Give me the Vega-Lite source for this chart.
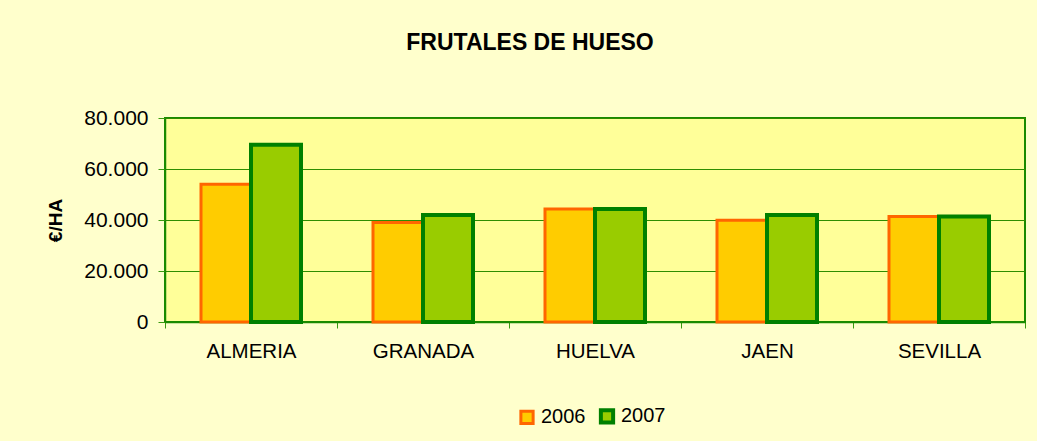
{
  "$schema": "https://vega.github.io/schema/vega-lite/v6.json",
  "width": 860,
  "height": 204,
  "autosize": "none",
  "padding": {"left": 165, "top": 118, "right": 12, "bottom": 119},
  "background": "#FFFFCC",
  "title": {
    "text": "FRUTALES DE HUESO",
    "font": "Liberation Sans",
    "fontSize": 23,
    "fontWeight": "bold",
    "color": "#000000",
    "anchor": "middle",
    "dx": -65,
    "offset": 52
  },
  "data": {
    "values": [
      {"provincia": "ALMERIA", "year": "2006", "valor": 54000},
      {"provincia": "ALMERIA", "year": "2007", "valor": 69500},
      {"provincia": "GRANADA", "year": "2006", "valor": 39000},
      {"provincia": "GRANADA", "year": "2007", "valor": 42000},
      {"provincia": "HUELVA", "year": "2006", "valor": 44300},
      {"provincia": "HUELVA", "year": "2007", "valor": 44300},
      {"provincia": "JAEN", "year": "2006", "valor": 39900},
      {"provincia": "JAEN", "year": "2007", "valor": 42000},
      {"provincia": "SEVILLA", "year": "2006", "valor": 41400},
      {"provincia": "SEVILLA", "year": "2007", "valor": 41400}
    ]
  },
  "mark": {"type": "bar", "strokeJoin": "miter"},
  "encoding": {
    "x": {
      "field": "provincia",
      "type": "nominal",
      "sort": null,
      "scale": {"paddingInner": 0, "paddingOuter": 0},
      "axis": {
        "title": null,
        "labelAngle": 0,
        "tickBand": "extent",
        "labelFont": "Liberation Sans",
        "labelFontSize": 20.5,
        "labelColor": "#000000",
        "labelPadding": 13,
        "tickSize": 6,
        "tickColor": "#3A9A10",
        "domainColor": "#1A8A00",
        "domainWidth": 1.5,
        "grid": false
      }
    },
    "xOffset": {
      "field": "year",
      "type": "nominal",
      "scale": {"paddingInner": 0, "paddingOuter": 0.72}
    },
    "y": {
      "field": "valor",
      "type": "quantitative",
      "scale": {"domain": [0, 80000]},
      "axis": {
        "values": [0, 20000, 40000, 60000, 80000],
        "labelExpr": "replace(format(datum.value, ','), ',', '.')",
        "title": "€/HA",
        "titleFont": "Liberation Sans",
        "titleFontSize": 19,
        "titleFontWeight": "bold",
        "titleColor": "#000000",
        "titlePadding": 18,
        "labelFont": "Liberation Sans",
        "labelFontSize": 21,
        "labelColor": "#000000",
        "labelPadding": 10,
        "tickSize": 7,
        "tickColor": "#3A9A10",
        "domainColor": "#1A8A00",
        "domainWidth": 1.5,
        "grid": true,
        "gridColor": "#2E8E00",
        "gridWidth": 1.2
      }
    },
    "fill": {
      "field": "year",
      "type": "nominal",
      "scale": {"domain": ["2006", "2007"], "range": ["#FFCC00", "#99CC00"]},
      "legend": {
        "title": null,
        "orient": "none",
        "legendX": 352,
        "legendY": 288,
        "direction": "horizontal",
        "symbolType": "square",
        "symbolSize": 150,
        "symbolStrokeWidth": 3,
        "labelFont": "Liberation Sans",
        "labelFontSize": 20,
        "labelColor": "#000000",
        "labelOffset": 4,
        "columnPadding": 6
      }
    },
    "stroke": {
      "field": "year",
      "type": "nominal",
      "scale": {"domain": ["2006", "2007"], "range": ["#FF6600", "#008000"]}
    },
    "strokeWidth": {
      "field": "year",
      "type": "nominal",
      "scale": {"domain": ["2006", "2007"], "range": [3, 4]},
      "legend": null
    }
  },
  "config": {
    "view": {"fill": "#FFFF99", "stroke": "#1A8A00", "strokeWidth": 2}
  }
}
